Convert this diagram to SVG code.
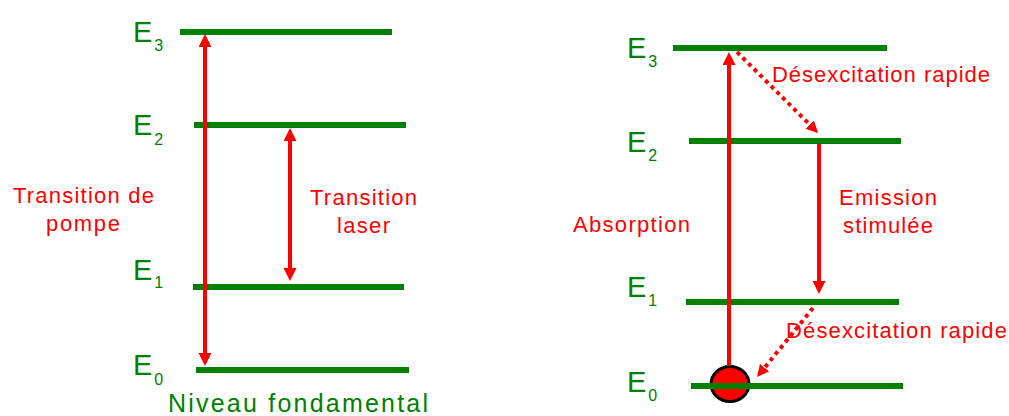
<svg xmlns="http://www.w3.org/2000/svg" width="1009" height="416" viewBox="0 0 1009 416">
<style>
.lvl{stroke:#008000;stroke-width:6;fill:none}
.el{font-family:"Liberation Sans",Arial,sans-serif;font-size:29px;fill:#008000}
.sub{font-size:16px}
.rt{font-family:"Liberation Sans",Arial,sans-serif;font-size:22px;fill:#ff0000}
.ar{stroke:#ff0000;stroke-width:4;fill:none}
.dot{stroke:#ff0000;stroke-width:4;fill:none;stroke-dasharray:4 4}
</style>
<defs>
<marker id="ah" markerUnits="userSpaceOnUse" markerWidth="14" markerHeight="14" refX="0" refY="6.5" orient="auto-start-reverse" viewBox="0 0 14 14">
<path d="M0,0 L13,6.5 L0,13 z" fill="#ff0000"/>
</marker>
<marker id="ahs" markerUnits="userSpaceOnUse" markerWidth="13" markerHeight="13" refX="0" refY="6" orient="auto" viewBox="0 0 13 13">
<path d="M0,0 L12,6 L0,12 z" fill="#ff0000"/>
</marker>
</defs>
<rect width="1009" height="416" fill="#ffffff"/>

<g id="left-E3"><line class="lvl" x1="180" y1="32" x2="392" y2="32"/><text class="el" x="133" y="42">E<tspan class="sub" dx="2" dy="9">3</tspan></text></g>
<g id="left-E2"><line class="lvl" x1="194" y1="125" x2="406" y2="125"/><text class="el" x="133" y="135">E<tspan class="sub" dx="2" dy="10">2</tspan></text></g>
<g id="left-E1"><line class="lvl" x1="193" y1="287" x2="404" y2="287"/><text class="el" x="133" y="280">E<tspan class="sub" dx="2" dy="8">1</tspan></text></g>
<g id="left-E0"><line class="lvl" x1="196" y1="370" x2="409" y2="370"/><text class="el" x="133" y="375">E<tspan class="sub" dx="2" dy="10">0</tspan></text></g>
<g id="left-ground-label"><text class="el" x="168" y="412" style="font-size:25px" textLength="260" lengthAdjust="spacing">Niveau fondamental</text></g>

<g id="right-E3"><line class="lvl" x1="673" y1="48" x2="887" y2="48"/><text class="el" x="627" y="58">E<tspan class="sub" dx="2" dy="9">3</tspan></text></g>
<g id="right-E2"><line class="lvl" x1="689" y1="141" x2="901" y2="141"/><text class="el" x="627" y="152">E<tspan class="sub" dx="2" dy="9">2</tspan></text></g>
<g id="right-E1"><line class="lvl" x1="686" y1="302" x2="899" y2="302"/><text class="el" x="627" y="297">E<tspan class="sub" dx="2" dy="9">1</tspan></text></g>
<g id="right-E0"><ellipse cx="730" cy="384" rx="19" ry="17.5" fill="#ff0000" stroke="#000000" stroke-width="3"/><line class="lvl" x1="691" y1="386" x2="903" y2="386"/><text class="el" x="627" y="392">E<tspan class="sub" dx="2" dy="9">0</tspan></text></g>

<g id="labels">
<text class="rt" x="13" y="203" textLength="141" lengthAdjust="spacing">Transition de</text>
<text class="rt" x="46" y="231" textLength="74" lengthAdjust="spacing">pompe</text>
<text class="rt" x="310" y="205" textLength="107" lengthAdjust="spacing">Transition</text>
<text class="rt" x="337" y="233" textLength="53" lengthAdjust="spacing">laser</text>
<text class="rt" x="573" y="232" textLength="117" lengthAdjust="spacing">Absorption</text>
<text class="rt" x="839" y="205" textLength="98" lengthAdjust="spacing">Emission</text>
<text class="rt" x="843" y="233" textLength="90" lengthAdjust="spacing">stimulée</text>
<text class="rt" x="772" y="82" textLength="218" lengthAdjust="spacing">Désexcitation rapide</text>
<text class="rt" x="786" y="338" textLength="221" lengthAdjust="spacing">Désexcitation rapide</text>
</g>

<g id="connectors">
<line class="ar" x1="205" y1="47" x2="205" y2="353" marker-start="url(#ah)" marker-end="url(#ah)"/>
<line class="ar" x1="290" y1="141" x2="290" y2="268" marker-start="url(#ah)" marker-end="url(#ah)"/>
<line class="ar" x1="729" y1="366" x2="729" y2="65" marker-end="url(#ah)"/>
<line class="ar" x1="819" y1="144" x2="819" y2="281" marker-end="url(#ah)"/>
<line class="dot" x1="737" y1="52" x2="809.6" y2="124.5" marker-end="url(#ahs)"/>
<line class="dot" x1="813" y1="308" x2="764.6" y2="367.7" marker-end="url(#ahs)"/>
</g>
</svg>
